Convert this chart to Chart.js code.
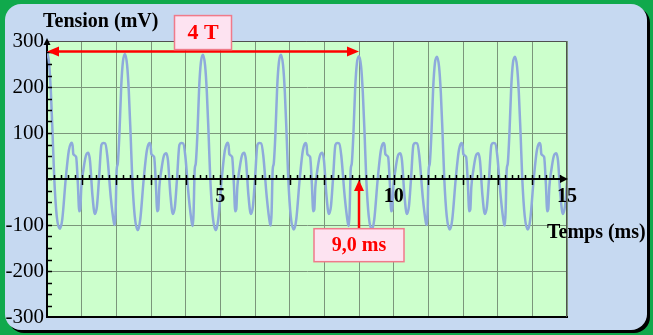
<!DOCTYPE html>
<html>
<head>
<meta charset="utf-8">
<script src="https://cdn.jsdelivr.net/npm/chart.js@4.4.0/dist/chart.umd.min.js"></script>
<style>
  html, body { margin: 0; padding: 0; }
  body { width: 653px; height: 335px; background: #10a94c; position: relative; overflow: hidden; }
  #panneau { position: absolute; left: 5px; top: 4px; width: 642px; height: 326px; background: #c6d9f1; border-radius: 16px; box-shadow: 3px 3px 0 #000; }
  #graphe { position: absolute; left: 0; top: 0; }
</style>
</head>
<body>
<div id="panneau"></div>
<canvas id="graphe" width="653" height="335"></canvas>
<script>
const tempsMs = [
  0, 0.06, 0.11, 0.16, 0.21, 0.28, 0.37, 0.44, 0.54, 0.63, 0.71, 0.74, 0.76, 0.84, 0.89, 0.93, 0.96, 0.99, 1.05, 1.12, 1.19, 1.24, 1.31, 1.38, 1.44, 1.50, 1.57, 1.62, 1.68, 1.74, 1.84, 1.93, 1.96, 1.98, 2.01, 2.04, 2.09, 2.14, 2.19,
  2.25, 2.31, 2.36, 2.41, 2.46, 2.53, 2.62, 2.69, 2.79, 2.88, 2.96, 2.99, 3.01, 3.09, 3.14, 3.18, 3.21, 3.24, 3.30, 3.37, 3.44, 3.49, 3.56, 3.63, 3.69, 3.75, 3.82, 3.87, 3.93, 3.99, 4.09, 4.18, 4.21, 4.23, 4.26, 4.29, 4.34, 4.39, 4.44,
  4.50, 4.56, 4.61, 4.66, 4.71, 4.78, 4.87, 4.94, 5.04, 5.13, 5.21, 5.24, 5.26, 5.34, 5.39, 5.43, 5.46, 5.49, 5.55, 5.62, 5.69, 5.74, 5.81, 5.88, 5.94, 6.00, 6.07, 6.12, 6.18, 6.24, 6.34, 6.43, 6.46, 6.48, 6.51, 6.54, 6.59, 6.64, 6.69,
  6.75, 6.81, 6.86, 6.91, 6.96, 7.03, 7.12, 7.19, 7.29, 7.38, 7.46, 7.49, 7.51, 7.59, 7.64, 7.68, 7.71, 7.74, 7.80, 7.87, 7.94, 7.99, 8.06, 8.13, 8.19, 8.25, 8.32, 8.37, 8.43, 8.49, 8.59, 8.68, 8.71, 8.73, 8.76, 8.79, 8.84, 8.89, 8.94,
  9.00, 9.06, 9.11, 9.16, 9.21, 9.28, 9.37, 9.44, 9.54, 9.63, 9.71, 9.74, 9.76, 9.84, 9.89, 9.93, 9.96, 9.99, 10.05, 10.12, 10.19, 10.24, 10.31, 10.38, 10.44, 10.50, 10.57, 10.62, 10.68, 10.74, 10.84, 10.93, 10.96, 10.98, 11.01, 11.04, 11.09, 11.14, 11.19,
  11.25, 11.31, 11.36, 11.41, 11.46, 11.53, 11.62, 11.69, 11.79, 11.88, 11.96, 11.99, 12.01, 12.09, 12.14, 12.18, 12.21, 12.24, 12.30, 12.37, 12.44, 12.49, 12.56, 12.63, 12.69, 12.75, 12.82, 12.87, 12.93, 12.99, 13.09, 13.18, 13.21, 13.23, 13.26, 13.29, 13.34, 13.39, 13.44,
  13.50, 13.56, 13.61, 13.66, 13.71, 13.78, 13.87, 13.94, 14.04, 14.13, 14.21, 14.24, 14.26, 14.34, 14.39, 14.43, 14.46, 14.49, 14.55, 14.62, 14.69, 14.74, 14.81, 14.88, 14.94, 15.00
];

// tension (mV)
const tensionMv = [
  277, 252, 192, 100, 0, -80, -108, -88, 0, 62, 79, 72, 54, 48, -10, -70, -66, -18, 20, 50, 57, 40, -35, -76, -60, 0, 74, 78, 77, 50, -40, -95, -100, -70, 20, 33, 100, 200, 255,
  272, 248, 190, 100, 0, -80, -111, -88, 0, 62, 78, 72, 54, 48, -10, -70, -67, -18, 20, 50, 56, 40, -35, -76, -60, 0, 74, 78, 77, 50, -40, -96, -102, -70, 20, 33, 100, 200, 254,
  270, 247, 190, 100, 0, -80, -111, -88, 0, 62, 79, 72, 54, 48, -10, -70, -66, -18, 20, 50, 57, 40, -35, -76, -60, 0, 74, 78, 77, 50, -40, -96, -101, -70, 20, 33, 100, 200, 254,
  270, 247, 190, 100, 0, -80, -110, -88, 0, 62, 78, 72, 54, 48, -10, -70, -67, -18, 20, 50, 57, 40, -35, -76, -60, 0, 74, 78, 77, 50, -40, -96, -102, -70, 20, 33, 100, 198, 252,
  267, 245, 188, 100, 0, -80, -110, -88, 0, 62, 78, 72, 54, 48, -10, -70, -66, -18, 20, 50, 56, 40, -35, -76, -60, 0, 74, 78, 77, 50, -40, -95, -100, -70, 20, 33, 100, 198, 252,
  266, 244, 188, 100, 0, -80, -110, -88, 0, 62, 78, 72, 54, 48, -10, -70, -67, -18, 20, 50, 56, 40, -35, -76, -60, 0, 74, 78, 77, 50, -40, -96, -101, -70, 20, 33, 100, 198, 252,
  266, 244, 188, 100, 0, -80, -110, -88, 0, 62, 78, 72, 54, 48, -10, -70, -66, -18, 20, 50, 56, 40, -35, -76, -60, -8
];

const yGraduations = [-300, -200, -100, 0, 100, 200, 300];
const xEtiquettes = [5, 10, 15];
const mesure4T = [0, 9];     // debut et fin de la fleche "4 T" (ms)
const niveau4T = 277;         // hauteur de la fleche (mV)
const repere9ms = 9;          // instant marque "9,0 ms"
const basRepere = -108;       // bas de la fleche verticale (mV)

const serif = "'Liberation Serif', 'Times New Roman', serif";

function pointe(ctx, x, y, ang, len, w) {
  ctx.save();
  ctx.translate(x, y);
  ctx.rotate(ang);
  ctx.beginPath();
  ctx.moveTo(0, 0);
  ctx.lineTo(-len, -w);
  ctx.lineTo(-len, w);
  ctx.closePath();
  ctx.fill();
  ctx.restore();
}

function boite(ctx, cx, top, w, h, texte, taille) {
  ctx.fillStyle = "#fde3f1";
  ctx.strokeStyle = "#f07a8a";
  ctx.lineWidth = 1.5;
  ctx.fillRect(cx - w / 2, top, w, h);
  ctx.strokeRect(cx - w / 2, top, w, h);
  ctx.fillStyle = "#ff0000";
  ctx.font = "bold " + taille + "px " + serif;
  ctx.textAlign = "center";
  ctx.textBaseline = "middle";
  ctx.fillText(texte, cx, top + h / 2 + 1);
}

const decor = {
  id: "decor",
  beforeDraw(chart) {
    const { ctx, chartArea: a } = chart;
    ctx.save();
    ctx.fillStyle = "#ccffcc";
    ctx.fillRect(a.left, a.top, a.right - a.left, a.bottom - a.top);
    ctx.restore();
  },
  afterDatasetsDraw(chart) {
    const { ctx, chartArea: a, scales: { x, y } } = chart;
    const y0 = y.getPixelForValue(0);
    ctx.save();

    // bords haut et droit
    ctx.strokeStyle = "#505050";
    ctx.lineWidth = 1;
    ctx.beginPath();
    ctx.moveTo(a.left, a.top + 0.5);
    ctx.lineTo(a.right - 0.5, a.top + 0.5);
    ctx.lineTo(a.right - 0.5, a.bottom);
    ctx.stroke();

    // axe des temps
    ctx.strokeStyle = "#000";
    ctx.fillStyle = "#000";
    ctx.lineWidth = 2;
    ctx.beginPath();
    ctx.moveTo(a.left, y0);
    ctx.lineTo(a.right - 4, y0);
    ctx.stroke();
    pointe(ctx, a.right + 1, y0, 0, 8, 4);
    ctx.lineWidth = 1.5;
    for (let i = 1; i < 75; i++) {
      const px = Math.round(x.getPixelForValue(i / 5)) + 0.5;
      ctx.beginPath();
      ctx.moveTo(px, y0 - 4);
      ctx.lineTo(px, i % 5 === 0 ? y0 + 6 : y0);
      ctx.stroke();
    }

    // graduations de l'axe des tensions
    for (let v = -275; v <= 275; v += 25) {
      const py = Math.round(y.getPixelForValue(v)) + 0.5;
      ctx.beginPath();
      ctx.moveTo(a.left, py);
      ctx.lineTo(a.left + 5, py);
      ctx.stroke();
    }
    pointe(ctx, a.left, a.top - 3, -Math.PI / 2, 7, 3.5);

    // etiquettes de l'axe des temps
    ctx.font = "bold 20px " + serif;
    ctx.textAlign = "center";
    ctx.textBaseline = "alphabetic";
    xEtiquettes.forEach(t => {
      ctx.fillText(String(t), x.getPixelForValue(t), y0 + 23);
    });

    // fleche 4 T
    const yT = y.getPixelForValue(niveau4T);
    const xa = x.getPixelForValue(mesure4T[0]);
    const xb = x.getPixelForValue(mesure4T[1]);
    ctx.strokeStyle = "#ff0000";
    ctx.fillStyle = "#ff0000";
    ctx.lineWidth = 2.5;
    ctx.beginPath();
    ctx.moveTo(xa + 6, yT);
    ctx.lineTo(xb - 6, yT);
    ctx.stroke();
    pointe(ctx, xb, yT, 0, 12, 5);
    pointe(ctx, xa, yT, Math.PI, 12, 5);
    boite(ctx, (xa + xb) / 2, yT - 36, 57, 34, "4 T", 22);

    // fleche 9,0 ms
    const x9 = x.getPixelForValue(repere9ms);
    const yBas = y.getPixelForValue(basRepere);
    ctx.strokeStyle = "#ff0000";
    ctx.fillStyle = "#ff0000";
    ctx.lineWidth = 2.5;
    ctx.beginPath();
    ctx.moveTo(x9, yBas);
    ctx.lineTo(x9, y0 + 8);
    ctx.stroke();
    pointe(ctx, x9, y0 + 1, -Math.PI / 2, 11, 5);
    boite(ctx, x9, yBas, 90, 33, "9,0 ms", 20);

    ctx.restore();
  },
  afterDraw(chart) {
    const { ctx } = chart;
    ctx.save();
    ctx.fillStyle = "#000";
    ctx.font = "bold 20px " + serif;
    ctx.textAlign = "left";
    ctx.textBaseline = "alphabetic";
    ctx.fillText("Tension (mV)", 43, 27);
    ctx.fillText("Temps (ms)", 547, 238);
    ctx.restore();
  }
};

new Chart(document.getElementById("graphe"), {
  type: "line",
  data: {
    datasets: [{
      data: tempsMs.map((t, i) => ({ x: t, y: tensionMv[i] })),
      borderColor: "#8eaadb",
      borderWidth: 2.5,
      pointRadius: 0,
      cubicInterpolationMode: "monotone"
    }]
  },
  options: {
    responsive: false,
    animation: false,
    layout: { padding: { left: 0, top: 41, right: 86, bottom: 18 } },
    plugins: { legend: { display: false }, tooltip: { enabled: false } },
    scales: {
      x: {
        type: "linear",
        min: 0,
        max: 15,
        ticks: { display: false, stepSize: 1 },
        grid: { color: "#7b967b", lineWidth: 1, drawTicks: false },
        border: { color: "#000", width: 2 },
        afterFit: s => { s.height = 0; }
      },
      y: {
        min: -300,
        max: 300,
        afterBuildTicks: s => { s.ticks = yGraduations.map(v => ({ value: v })); },
        ticks: {
          padding: 3,
          color: "#000",
          font: { family: serif, size: 21 },
          callback: v => (v === 0 ? "" : String(v))
        },
        grid: { color: "#7b967b", lineWidth: 1, drawTicks: false },
        border: { color: "#000", width: 2 },
        afterFit: s => { s.width = 47; }
      }
    }
  },
  plugins: [decor]
});
</script>
</body>
</html>
